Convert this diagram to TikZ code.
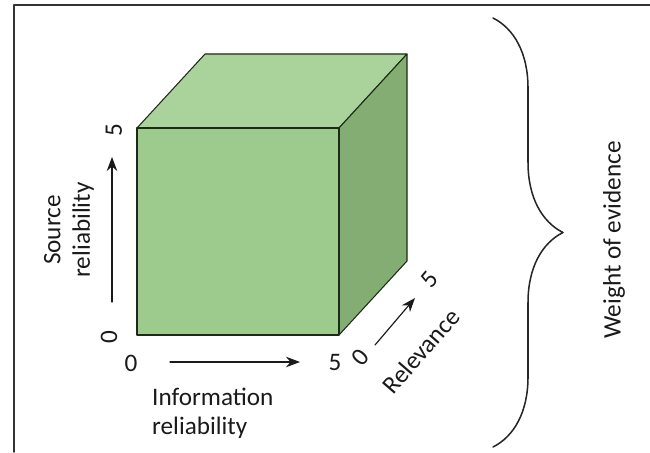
\documentclass[tikz,border=0pt]{standalone}
\usepackage{fontspec}
\setmainfont{Carlito}
\usetikzlibrary{arrows.meta,decorations.pathreplacing}
\definecolor{topgreen}{HTML}{AAD39B}
\definecolor{frontgreen}{HTML}{9DCB8D}
\definecolor{sidegreen}{HTML}{84AD74}
\definecolor{edgegreen}{HTML}{1E2A18}
\definecolor{inkgray}{HTML}{1A1A1A}
\tikzset{pixels/.style={
  x={(0.03cm,0cm)},
  y={(0cm,-0.03cm)},
  >=Stealth,line join=round,line cap=round
},
  lbl/.style={inner sep=0pt,text=inkgray,font=\fontsize{21.5}{25}\selectfont},
  axis/.style={->,line width=1pt,inkgray,>={Stealth[length=12pt,width=9pt]}},
  face/.style={draw=edgegreen,line width=0.9pt}
}

\begin{document}
\begin{tikzpicture}[pixels]
  \useasboundingbox (0,0) rectangle (650,452);
  % frame
  \draw[line width=1.4pt,black!80] (14,452)--(14,5)--(650,5);
  % cube corners
  \coordinate (A) at (137,335);
  \coordinate (B) at (339,335);
  \coordinate (C) at (339,128);
  \coordinate (D) at (137,128);
  \coordinate (E) at (205,54);
  \coordinate (F) at (407,54);
  \coordinate (G) at (407,261);
  \filldraw[face,fill=topgreen] (D)--(C)--(F)--(E)--cycle;
  \filldraw[face,fill=sidegreen] (B)--(G)--(F)--(C)--cycle;
  \filldraw[face,fill=frontgreen] (A)--(B)--(C)--(D)--cycle;
  % source reliability axis
  \node[lbl,rotate=90] (s0) at (109,337){0};
  \node[lbl,rotate=90] (s5) at (114,130){5};
  \coordinate (sa) at (112,302);
  \coordinate (sb) at (112,157);
  \draw[axis] (sa)--(sb);
  \node[lbl,rotate=90,align=center] (src) at (69,230){Source\\reliability};
  % information reliability axis
  \node[lbl] (i0) at (131,363){0};
  \node[lbl] (i5) at (335,363){5};
  \coordinate (ia) at (170,362);
  \coordinate (ib) at (300,362);
  \draw[axis] (ia)--(ib);
  \node[lbl,align=left,anchor=north west] (info) at (152,388){Information\\reliability};
  % relevance axis
  \node[lbl,rotate=50] (r0) at (360,357){0};
  \node[lbl,rotate=50] (r5) at (429,279){5};
  \coordinate (ra) at (375,345);
  \coordinate (rb) at (415,298);
  \draw[axis] (ra)--(rb);
  \node[lbl,rotate=49] (rel) at (421,351){Relevance};
  % weight of evidence
  \coordinate (bt) at (493,18);
  \coordinate (bb) at (493,447);
  \draw[decorate,decoration={brace,amplitude=2.1cm},line width=1.3pt,black!85] (bt)--(bb);
  \node[lbl,rotate=90] (woe) at (614,240){Weight of evidence};
\end{tikzpicture}
\end{document}
